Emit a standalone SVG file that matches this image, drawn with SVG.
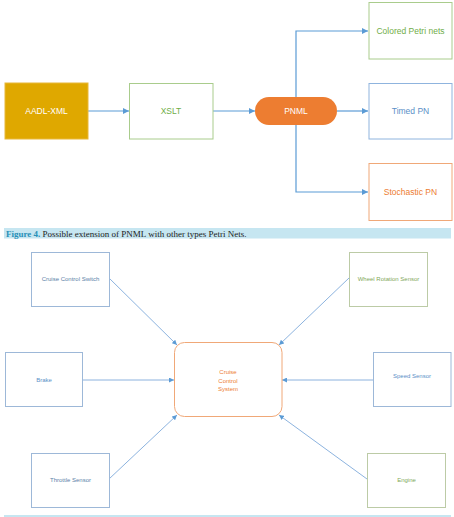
<svg xmlns="http://www.w3.org/2000/svg" width="454" height="517" viewBox="0 0 454 517">
  <style>
    .lbl { font-family: "Liberation Sans", Arial, sans-serif; text-anchor: middle; dominant-baseline: central; }
    .t1 { font-size: 8.5px; }
    .t2 { font-size: 6px; }
    .wire { fill: none; stroke: #5B9BD5; stroke-width: 1.2; }
    .wire2 { fill: none; stroke: #6FA0D6; stroke-width: 0.8; }
    .cap { font-family: "Liberation Serif", "Times New Roman", serif; font-size: 9px; }
  </style>
  <defs>
    <marker id="ah" viewBox="0 0 10 10" refX="10" refY="5" markerWidth="6" markerHeight="6" markerUnits="userSpaceOnUse" orient="auto">
      <path d="M0,0 L10,5 L0,10 z" fill="#5B9BD5"/>
    </marker>
    <marker id="ah2" viewBox="0 0 10 10" refX="10" refY="5" markerWidth="5" markerHeight="5" markerUnits="userSpaceOnUse" orient="auto">
      <path d="M0,0 L10,5 L0,10 z" fill="#5B9BD5"/>
    </marker>
  </defs>
  <rect width="454" height="517" fill="#ffffff"/>

  <!-- top diagram: PNML pipeline -->
  <g id="connectors-top">
    <line class="wire" x1="88" y1="111" x2="129" y2="111" marker-end="url(#ah)"/>
    <line class="wire" x1="213" y1="111" x2="255" y2="111" marker-end="url(#ah)"/>
    <line class="wire" x1="337" y1="111" x2="368" y2="111" marker-end="url(#ah)"/>
    <path class="wire" d="M296,97 V31 H368" marker-end="url(#ah)"/>
    <path class="wire" d="M296,125 V192 H368" marker-end="url(#ah)"/>
  </g>
  <g id="aadl-xml">
    <rect x="5" y="83" width="83" height="56" fill="#DFA800" stroke="#E8B83A" stroke-width="1"/>
    <text class="lbl t1" x="46.5" y="111" fill="#ffffff">AADL-XML</text>
  </g>
  <g id="xslt">
    <rect x="129.5" y="83.5" width="83.5" height="55.5" fill="#ffffff" stroke="#A9CC8C" stroke-width="1"/>
    <text class="lbl t1" x="171" y="111" fill="#70AD47">XSLT</text>
  </g>
  <g id="pnml">
    <rect x="255" y="97" width="82" height="28" rx="14" fill="#ED7D31"/>
    <text class="lbl t1" x="296" y="111" fill="#ffffff">PNML</text>
  </g>
  <g id="colored-petri-nets">
    <rect x="369" y="2.5" width="83" height="56.5" fill="#ffffff" stroke="#A9CC8C" stroke-width="1"/>
    <text class="lbl t1" x="410.5" y="30.5" fill="#70AD47">Colored Petri nets</text>
  </g>
  <g id="timed-pn">
    <rect x="369" y="83.5" width="83" height="55.5" fill="#ffffff" stroke="#8FB4DE" stroke-width="1"/>
    <text class="lbl t1" x="410.5" y="111" fill="#5B8FC7">Timed PN</text>
  </g>
  <g id="stochastic-pn">
    <rect x="369" y="163.5" width="83" height="57" fill="#ffffff" stroke="#F0A878" stroke-width="1"/>
    <text class="lbl t1" x="410.5" y="192" fill="#ED7D31">Stochastic PN</text>
  </g>

  <!-- figure caption -->
  <g id="caption-4">
    <rect x="4" y="228" width="447" height="10.5" fill="#C6E6F1"/>
    <text class="cap" x="6" y="236.5"><tspan fill="#2A90B8" font-weight="bold">Figure 4.</tspan><tspan fill="#222222"> Possible extension of PNML with other types Petri Nets.</tspan></text>
  </g>

  <!-- bottom diagram: cruise control context -->
  <g id="connectors-bottom">
    <line class="wire2" x1="109" y1="278" x2="177" y2="345" marker-end="url(#ah2)"/>
    <line class="wire2" x1="349" y1="278" x2="279" y2="345" marker-end="url(#ah2)"/>
    <line class="wire2" x1="82" y1="380" x2="174" y2="380" marker-end="url(#ah2)"/>
    <line class="wire2" x1="373" y1="380" x2="282" y2="380" marker-end="url(#ah2)"/>
    <line class="wire2" x1="109" y1="479" x2="177" y2="415" marker-end="url(#ah2)"/>
    <line class="wire2" x1="367" y1="479" x2="279" y2="415" marker-end="url(#ah2)"/>
  </g>
  <g id="cruise-control-system">
    <rect x="174.5" y="342.5" width="107.5" height="74" rx="10" fill="#ffffff" stroke="#F0A878" stroke-width="1"/>
    <text class="lbl t2" fill="#ED7D31"><tspan x="228" y="372">Cruise</tspan><tspan x="228" y="380.5">Control</tspan><tspan x="228" y="389">System</tspan></text>
  </g>
  <g id="cruise-control-switch">
    <rect x="31.5" y="252.5" width="78" height="54" fill="#ffffff" stroke="#9DB8D8" stroke-width="1"/>
    <text class="lbl t2" x="70.5" y="279" fill="#5A7FA8">Cruise Control Switch</text>
  </g>
  <g id="wheel-rotation-sensor">
    <rect x="349.5" y="252.5" width="78" height="54" fill="#ffffff" stroke="#BCCBA6" stroke-width="1"/>
    <text class="lbl t2" x="388.5" y="279" fill="#7FA85A">Wheel Rotation Sensor</text>
  </g>
  <g id="brake">
    <rect x="5.5" y="352.5" width="77" height="54" fill="#ffffff" stroke="#9DB8D8" stroke-width="1"/>
    <text class="lbl t2" x="44" y="380" fill="#5B8FC7">Brake</text>
  </g>
  <g id="speed-sensor">
    <rect x="373.5" y="352.5" width="77.5" height="54" fill="#ffffff" stroke="#9DB8D8" stroke-width="1"/>
    <text class="lbl t2" x="412" y="375.5" fill="#5B8FC7">Speed Sensor</text>
  </g>
  <g id="throttle-sensor">
    <rect x="31.5" y="453.5" width="78" height="54" fill="#ffffff" stroke="#9DB8D8" stroke-width="1"/>
    <text class="lbl t2" x="70.5" y="480" fill="#5A7FA8">Throttle Sensor</text>
  </g>
  <g id="engine">
    <rect x="367.5" y="453.5" width="78" height="54" fill="#ffffff" stroke="#BCCBA6" stroke-width="1"/>
    <text class="lbl t2" x="406.5" y="480" fill="#7FA85A">Engine</text>
  </g>

  <!-- next caption band, clipped at the page edge -->
  <rect x="4" y="515" width="447" height="2" fill="#C6E6F1"/>
</svg>
